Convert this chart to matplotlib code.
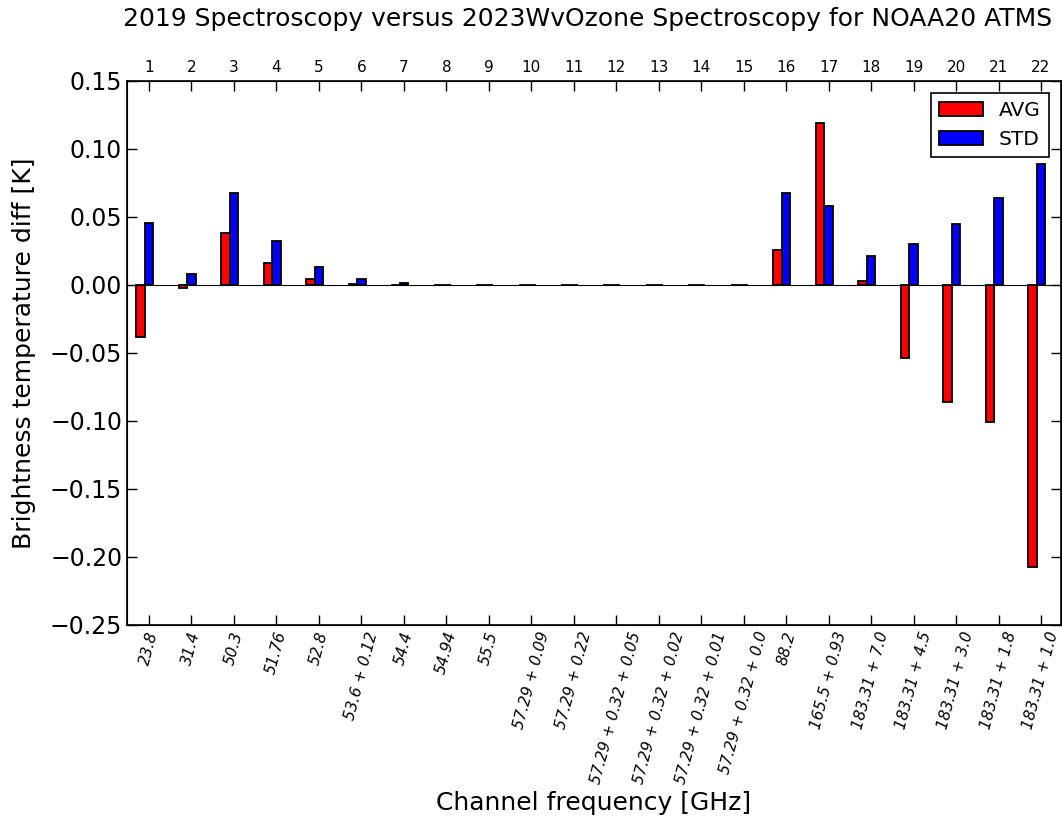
import numpy as np
import matplotlib
matplotlib.use("Agg")
import matplotlib.pyplot as plt

# ATMS channel numbers and centre frequencies
channels = np.arange(1, 23)
freq_labels = ["23.8", "31.4", "50.3", "51.76", "52.8", "53.6 + 0.12", "54.4",
               "54.94", "55.5", "57.29 + 0.09", "57.29 + 0.22",
               "57.29 + 0.32 + 0.05", "57.29 + 0.32 + 0.02",
               "57.29 + 0.32 + 0.01", "57.29 + 0.32 + 0.0", "88.2",
               "165.5 + 0.93", "183.31 + 7.0", "183.31 + 4.5", "183.31 + 3.0",
               "183.31 + 1.8", "183.31 + 1.0"]

# mean and std of brightness temperature differences (2023WvOzone - 2019)
avg = [-0.0384, -0.0025, 0.0379, 0.0158, 0.0047, 0.0010, 0.0002,
       0.0001, 0.0001, 0.0001, 0.0001, 0.0001, 0.0001, 0.0001, 0.0001,
       0.0260, 0.1190, 0.0030, -0.0537, -0.0857, -0.1004, -0.2073]
std = [0.0458, 0.0081, 0.0679, 0.0325, 0.0133, 0.0047, 0.0015,
       0.0002, 0.0002, 0.0002, 0.0002, 0.0002, 0.0002, 0.0002, 0.0002,
       0.0680, 0.0580, 0.0214, 0.0305, 0.0448, 0.0637, 0.0891]

plt.rcParams["xtick.direction"] = "in"
plt.rcParams["ytick.direction"] = "in"

fig = plt.figure(figsize=(10.62, 8.23), dpi=100)
ax = fig.add_axes([0.1196, 0.2406, 0.8794, 0.661])

width = 0.2
ax.bar(channels - 0.3, avg, width, align="edge", color="red",
       edgecolor="black", linewidth=1.3, label="AVG")
ax.bar(channels - 0.1, std, width, align="edge", color="blue",
       edgecolor="black", linewidth=1.3, label="STD")
ax.axhline(0, color="black", linewidth=0.8)

ax.set_xlim(0.482, 22.47)
ax.set_ylim(-0.25, 0.15)
ax.set_yticks(np.linspace(-0.25, 0.15, 9))


def fmt(v, pos):
    s = "%.2f" % abs(v)
    return ("\u2212" + s) if v < -1e-9 else s


ax.yaxis.set_major_formatter(matplotlib.ticker.FuncFormatter(fmt))
ax.tick_params(axis="y", labelsize=17, right=True, length=7, width=1)
ax.set_xticks(channels)
ax.set_xticklabels(freq_labels, rotation=75, ha="center", fontsize=11,
                   fontstyle="italic")
ax.tick_params(axis="x", length=7, width=1, top=False)
for sp in ax.spines.values():
    sp.set_linewidth(1.2)

ax.set_ylabel("Brightness temperature diff [K]", fontsize=18, labelpad=10)
ax.set_xlabel("Channel frequency [GHz]", fontsize=18)

top = ax.twiny()
top.set_xlim(ax.get_xlim())
top.set_xticks(channels)
top.set_xticklabels([str(c) for c in channels], fontsize=11)
top.tick_params(axis="x", length=7, width=1, pad=4)

ax.legend(loc="upper right", fontsize=14.5, handlelength=2.2,
          fancybox=False, edgecolor="black", framealpha=1,
          borderaxespad=0.6)
ax.legend_.get_frame().set_linewidth(1.2)

fig.text(0.5535, 0.977, "2019 Spectroscopy versus 2023WvOzone Spectroscopy for NOAA20 ATMS",
         ha="center", va="center", fontsize=18)

fig.savefig("out.png", dpi=100)
